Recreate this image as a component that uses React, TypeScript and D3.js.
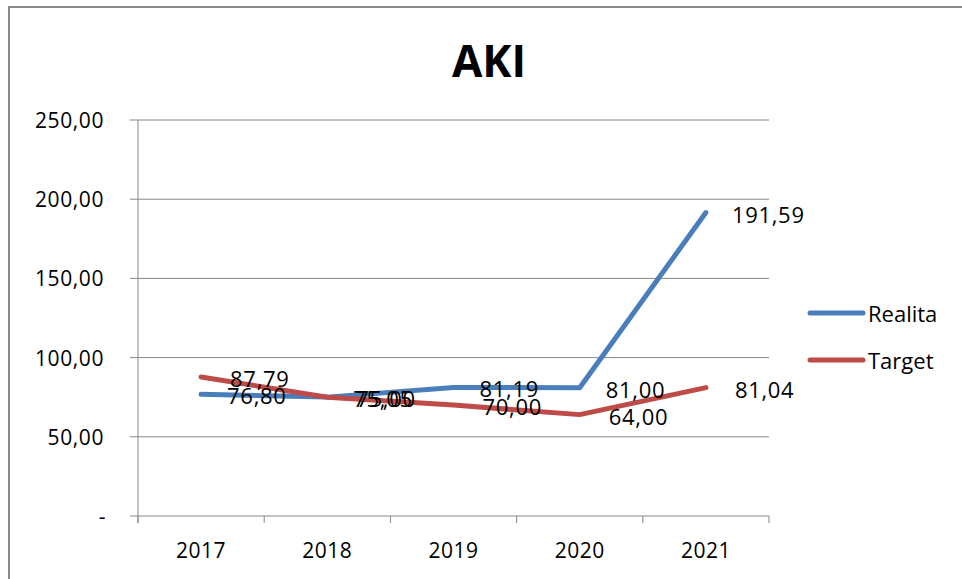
import React from "react";
import * as d3 from "d3";

const years = ["2017", "2018", "2019", "2020", "2021"];
const realita = [76.8, 75.05, 81.19, 81.0, 191.59];
const target = [87.79, 75.0, 70.0, 64.0, 81.04];
const yTicks = [0, 50, 100, 150, 200, 250];
const seriesNames = ["Realita", "Target"];
const seriesColors = ["#4A7EBB", "#BE4B48"];

const W = 962;
const H = 579;
const FONT = "'Open Sans', sans-serif";

const fmt = (v: number) => (v === 0 ? "-" : v.toFixed(2).replace(".", ","));

export default function App() {
  const x = d3.scaleBand<string>().domain(years).range([138, 769]).padding(0);
  const y = d3.scaleLinear().domain([0, 250]).range([516, 120]);
  const cx = (d: string) => (x(d) as number) + x.bandwidth() / 2;
  const line = d3
    .line<number>()
    .x((_, i) => cx(years[i]))
    .y((v) => y(v));
  const series = [realita, target];
  const bounds = [...years.map((d) => x(d) as number), 769];

  return (
    <svg
      width={W}
      height={H}
      style={{ position: "absolute", left: 0, top: 0, display: "block", background: "#fff" }}
      fontFamily={FONT}
    >
      <rect x={0} y={0} width={W} height={H} fill="#fff" />
      <path d={`M9,${H} V7 H${W}`} fill="none" stroke="#8a8a8a" strokeWidth={2} />
      <text
        x={489}
        y={60}
        textAnchor="middle"
        dominantBaseline="central"
        fontSize={44}
        fontWeight="bold"
        fill="#000"
      >
        AKI
      </text>
      {yTicks.map((t) => (
        <g key={t}>
          <line x1={130} x2={769} y1={y(t)} y2={y(t)} stroke="#868686" strokeWidth={1} />
          <text
            x={t === 0 ? 106 : 104}
            y={y(t)}
            textAnchor="end"
            dominantBaseline="central"
            fontSize={21}
            letterSpacing={0.6}
            fill="#000"
          >
            {fmt(t)}
          </text>
        </g>
      ))}
      <line x1={138} x2={138} y1={120} y2={523} stroke="#868686" strokeWidth={1} />
      {bounds.map((b, i) => (
        <line key={i} x1={b} x2={b} y1={516} y2={523} stroke="#868686" strokeWidth={1} />
      ))}
      {years.map((d) => (
        <text
          key={d}
          x={cx(d)}
          y={550}
          textAnchor="middle"
          dominantBaseline="central"
          fontSize={21}
          letterSpacing={0.5}
          fill="#000"
        >
          {d}
        </text>
      ))}
      {series.map((s, si) => (
        <path
          key={si}
          d={line(s) || ""}
          fill="none"
          stroke={seriesColors[si]}
          strokeWidth={5}
          strokeLinecap="round"
          strokeLinejoin="round"
        />
      ))}
      {series.map((s, si) =>
        s.map((v, i) => (
          <text
            key={`${si}-${i}`}
            x={cx(years[i]) + 26 + si * 3}
            y={y(v) + 1}
            dominantBaseline="central"
            fontSize={22}
            letterSpacing={0.7}
            fill="#000"
          >
            {fmt(v)}
          </text>
        ))
      )}
      {seriesNames.map((n, i) => (
        <g key={n}>
          <line
            x1={810}
            x2={863}
            y1={313 + i * 47}
            y2={313 + i * 47}
            stroke={seriesColors[i]}
            strokeWidth={5}
            strokeLinecap="round"
          />
          <text x={868} y={313 + i * 47} dominantBaseline="central" fontSize={22} fill="#000">
            {n}
          </text>
        </g>
      ))}
    </svg>
  );
}
